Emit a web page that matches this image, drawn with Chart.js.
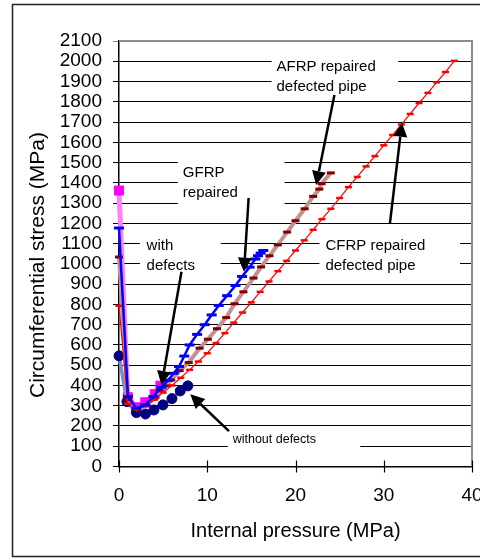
<!DOCTYPE html>
<html><head><meta charset="utf-8">
<script src="https://cdn.jsdelivr.net/npm/chart.js@4/dist/chart.umd.min.js"></script>
<style>html,body{margin:0;padding:0;background:#fff}canvas{display:block}</style>
</head><body>
<canvas id="c" width="480" height="559"></canvas>
<script>
// ---- data ----
const xTickValues = [0, 10, 20, 30, 40];
const yTickValues = [0,100,200,300,400,500,600,700,800,900,1000,1100,1200,1300,1400,1500,1600,1700,1800,1900,2000,2100];

const withoutDefectsX = [0, 0.9, 1.97, 3.0, 3.96, 4.98, 6.0, 6.94, 7.8];
const withoutDefectsY = [546, 320, 266, 259, 279, 304, 335, 373, 398];

const withDefectsX = [0, 1.0, 1.97, 2.98, 4.04, 4.7];
const withDefectsY = [1362, 342, 292, 317, 357, 399];

const gfrpX = [0, 1.02, 1.97, 2.98, 3.9, 4.8, 5.55, 6.2, 6.8, 7.4, 8.0, 8.85, 9.7, 10.5, 11.3, 12.25, 13.2, 13.95, 14.8, 15.45, 15.75, 16.05, 16.35];
const gfrpY = [1177, 345, 287, 304, 345, 391, 425, 460, 493, 545, 600, 652, 700, 748, 795, 843, 893, 938, 984, 1024, 1040, 1053, 1066];

const afrpX = [0, 1.0, 2.0, 3.0, 4.0, 4.6, 5.36, 5.92, 6.87, 7.9, 9.13, 10.07, 11.1, 12.15, 13.09, 14.1, 15.24, 16.1, 17.05, 18.0, 19.05, 20.0, 21.04, 22.0, 22.7, 22.96, 24.0];
const afrpY = [1034, 330, 283, 300, 335, 375, 398, 427, 473, 513, 584, 628, 680, 735, 803, 862, 930, 985, 1040, 1094, 1157, 1213, 1272, 1333, 1369, 1396, 1449];

const cfrpX = [0,1,2,3,4,5,6,7,8,9,10,11,12,13,14,15,16,17,18,19,20,21,22,23,24,25,26,27,28,29,30,31,32,33,34,35,36,37,38];
const cfrpY = [793,310,283,298,330,365,400,438,477,518,559,609,658,710,760,810,862,913,964,1015,1066,1116,1168,1221,1272,1325,1379,1429,1481,1532,1585,1636,1688,1740,1794,1844,1896,1947,2002];

const xTitle = 'Internal pressure (MPa)';
const yTitle = 'Circumferential stress (MPa)';

// ---- annotations (in data units) ----
const labels = [
  {lines:['AFRP repaired','defected pipe'], x:17.85, base:[1952,1853], box:[17.29,2056,31.64,1844], size:15},
  {lines:['GFRP','repaired'], x:7.23, base:[1429,1330], box:[6.67,1562,18.76,1251], size:15},
  {lines:['with','defects'], x:3.13, base:[1068,970], box:[2.37,1157,11.53,945], size:15},
  {lines:['CFRP repaired','defected pipe'], x:23.39, base:[1068,970], box:[22.71,1157,38.64,945], size:15},
  {lines:['without defects'], x:12.88, base:[114], box:[12.32,165,27.34,42], size:12.5}
];
const arrows = [
  [24.41,1833, 22.34,1389],
  [30.70,1200, 32.06,1697],
  [14.69,1325, 14.16,961],
  [7.08,961, 4.82,402],
  [12.46,175, 8.08,356]
];

const F = '"Liberation Sans", Arial, Helvetica, sans-serif';
const pts = (xs, ys) => xs.map((x, i) => ({x, y: ys[i]}));

const deco = {
  id: 'deco',
  beforeDatasetsDraw(chart) {
    const {ctx, scales: {x, y}} = chart;
    ctx.save();
    ctx.fillStyle = '#fff';
    for (const l of labels) {
      const X1 = x.getPixelForValue(l.box[0]), Y1 = y.getPixelForValue(l.box[1]);
      const X2 = x.getPixelForValue(l.box[2]), Y2 = y.getPixelForValue(l.box[3]);
      ctx.fillRect(X1, Y1, X2 - X1, Y2 - Y1);
    }
    ctx.restore();
  },
  afterDatasetsDraw(chart) {
    const {ctx, chartArea: a, scales: {x, y}} = chart;
    ctx.save();
    ctx.fillStyle = '#000';
    ctx.textAlign = 'left';
    ctx.textBaseline = 'alphabetic';
    for (const l of labels) {
      ctx.font = l.size + 'px ' + F;
      l.lines.forEach((t, i) => ctx.fillText(t, x.getPixelForValue(l.x), y.getPixelForValue(l.base[i])));
    }
    ctx.strokeStyle = '#000';
    ctx.fillStyle = '#000';
    ctx.lineWidth = 2.5;
    for (const ar of arrows) {
      const x0 = x.getPixelForValue(ar[0]), y0 = y.getPixelForValue(ar[1]);
      const x1 = x.getPixelForValue(ar[2]), y1 = y.getPixelForValue(ar[3]);
      const ang = Math.atan2(y1 - y0, x1 - x0);
      const L = 14, W = 7;
      const bx = x1 - L * Math.cos(ang), by = y1 - L * Math.sin(ang);
      ctx.beginPath(); ctx.moveTo(x0, y0); ctx.lineTo(bx, by); ctx.stroke();
      ctx.beginPath();
      ctx.moveTo(x1, y1);
      ctx.lineTo(bx + W * Math.sin(ang), by - W * Math.cos(ang));
      ctx.lineTo(bx - W * Math.sin(ang), by + W * Math.cos(ang));
      ctx.closePath(); ctx.fill();
    }
    ctx.strokeStyle = '#8c8c8c';
    ctx.lineWidth = 2;
    ctx.beginPath();
    ctx.moveTo(a.left, a.top); ctx.lineTo(a.right, a.top); ctx.lineTo(a.right, a.bottom);
    ctx.stroke();
    ctx.strokeStyle = '#000';
    ctx.lineWidth = 1.2;
    for (const v of xTickValues) {
      const px = Math.round(x.getPixelForValue(v)) + 0.5;
      ctx.beginPath(); ctx.moveTo(px, a.bottom - 6); ctx.lineTo(px, a.bottom + 6); ctx.stroke();
    }
    ctx.restore();
  },
  afterDraw(chart) {
    const {ctx} = chart;
    ctx.save();
    ctx.strokeStyle = '#222';
    ctx.lineWidth = 1.5;
    ctx.beginPath();
    ctx.moveTo(481, 4.5); ctx.lineTo(12.5, 4.5); ctx.lineTo(12.5, 556.5); ctx.lineTo(481, 556.5);
    ctx.stroke();
    ctx.translate(38.5, 265);
    ctx.rotate(-Math.PI / 2);
    ctx.font = '21px ' + F;
    ctx.fillStyle = '#000';
    ctx.textAlign = 'center';
    ctx.textBaseline = 'middle';
    ctx.fillText(yTitle, 0, 0);
    ctx.restore();
  }
};

new Chart(document.getElementById('c'), {
  type: 'scatter',
  data: {
    datasets: [
      {label: 'GFRP repaired', data: pts(gfrpX, gfrpY), showLine: true, clip: false,
       borderColor: '#0000ff', borderWidth: 2.5, pointStyle: 'line', pointRadius: 5,
       pointBorderWidth: 3, pointBorderColor: '#0000ff', pointBackgroundColor: '#0000ff'},
      {label: 'CFRP repaired defected pipe', data: pts(cfrpX, cfrpY), showLine: true, clip: false,
       borderColor: '#ff0000', borderWidth: 1.2, pointStyle: 'line', pointRadius: 3.5,
       pointBorderWidth: 2.5, pointBorderColor: '#ff0000', pointBackgroundColor: '#ff0000'},
      {label: 'AFRP repaired defected pipe', data: pts(afrpX, afrpY), showLine: true, clip: false,
       borderColor: '#c39191', borderWidth: 4, pointStyle: 'line', pointRadius: 4,
       pointBorderWidth: 3, pointBorderColor: '#800000', pointBackgroundColor: '#800000'},
      {label: 'without defects', data: pts(withoutDefectsX, withoutDefectsY), showLine: true, clip: false,
       borderColor: '#7d8cc4', borderWidth: 3.5, pointStyle: 'circle', pointRadius: 5,
       pointBorderWidth: 1, pointBorderColor: '#000080', pointBackgroundColor: '#000080'},
      {label: 'with defects', data: pts(withDefectsX, withDefectsY), showLine: true, clip: false,
       borderColor: '#ff80ff', borderWidth: 5, pointStyle: 'rect', pointRadius: 6.4,
       pointBorderWidth: 1, pointBorderColor: '#ff00ff', pointBackgroundColor: '#ff00ff'}
    ]
  },
  options: {
    responsive: false,
    animation: false,
    devicePixelRatio: 1,
    layout: {padding: {left: 0, top: 41, right: 7, bottom: 0}},
    plugins: {legend: {display: false}, tooltip: {enabled: false}},
    scales: {
      x: {
        type: 'linear', min: 0, max: 40,
        afterBuildTicks: s => { s.ticks = xTickValues.map(v => ({value: v})); },
        afterFit: s => { s.height = 92.5; s.paddingLeft = 0; s.paddingRight = 0; },
        grid: {display: false, drawTicks: false, tickLength: 0},
        border: {display: true, color: '#000', width: 1.5},
        ticks: {font: {size: 19, family: F}, color: '#000', padding: 18, maxRotation: 0, autoSkip: false,
                callback: v => String(v)},
        title: {display: true, text: xTitle, font: {size: 20, family: F}, color: '#000', padding: {top: 0, bottom: 16}}
      },
      y: {
        type: 'linear', min: 0, max: 2100,
        afterBuildTicks: s => { s.ticks = yTickValues.map(v => ({value: v})); },
        afterFit: s => { s.width = 119; s.paddingTop = 0; s.paddingBottom = 0; },
        grid: {color: c => (c.tick && c.tick.value === 2100) ? '#8c8c8c' : '#000', lineWidth: 1, drawTicks: true, tickLength: 6},
        border: {display: true, color: '#000', width: 1.5},
        ticks: {font: {size: 19, family: F}, color: '#000', padding: 11, autoSkip: false,
                callback: v => String(v)}
      }
    }
  },
  plugins: [deco]
});
</script>
</body></html>
